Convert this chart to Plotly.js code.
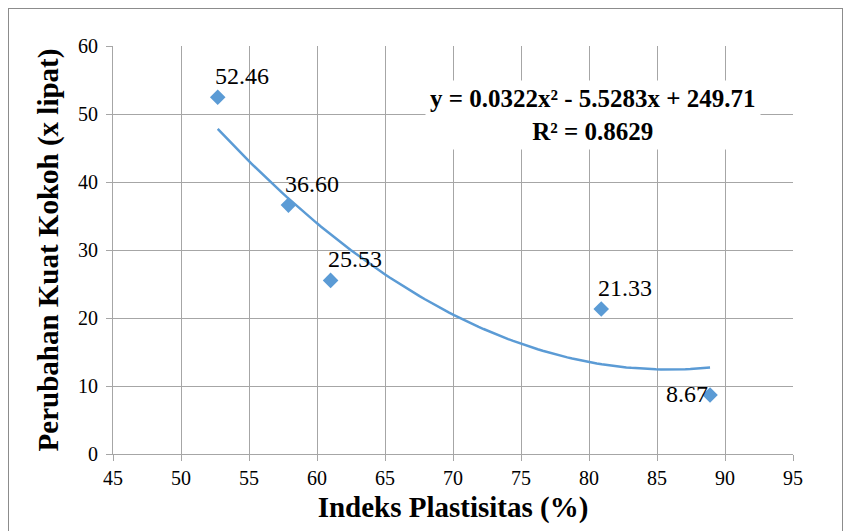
<!DOCTYPE html>
<html>
<head>
<meta charset="utf-8">
<script src="https://cdn.plot.ly/plotly-3.0.1.min.js"></script>
<style>
html,body{margin:0;padding:0;background:#fff;}
#wrap{position:relative;width:849px;height:531px;}
#chart{position:absolute;left:0;top:0;width:849px;height:531px;}
#frame{position:absolute;left:8px;top:8px;width:835px;height:530px;border:1px solid #8c8c8c;box-sizing:border-box;pointer-events:none;}
</style>
</head>
<body>
<div id="wrap"><div id="chart"></div><div id="frame"></div></div>
<script>
// Data
var plastisitas = [52.7, 57.9, 61.0, 80.9, 88.9];
var kuatKokoh = [52.46, 36.60, 25.53, 21.33, 8.67];
var labelText = ["52.46", "36.60", "25.53", "21.33", "8.67"];
// Trendline coefficients as printed on the chart (y = a x^2 + b x + c)
var trendA = 0.0322, trendB = -5.5283, trendC = 249.71;
var trendR2 = "0.8629";
var xTicks = [45, 50, 55, 60, 65, 70, 75, 80, 85, 90, 95];
var yTicks = [0, 10, 20, 30, 40, 50, 60];

var serif = "Liberation Serif";
var blue = "#5b9bd5";
var xmin = Math.min.apply(null, plastisitas), xmax = Math.max.apply(null, plastisitas);
var tx = [], ty = [];
for (var i = 0; i <= 100; i++) {
  var x = xmin + (xmax - xmin) * i / 100;
  tx.push(x);
  ty.push(trendA * x * x + trendB * x + trendC);
}

var traces = [
  {x: tx, y: ty, mode: "lines", line: {color: blue, width: 2.5}, hoverinfo: "skip", showlegend: false},
  {x: plastisitas, y: kuatKokoh, mode: "markers", marker: {symbol: "diamond", size: 12, color: blue}, showlegend: false}
];

var annotations = [];
for (var j = 0; j < plastisitas.length; j++) {
  var last = (j === plastisitas.length - 1);
  annotations.push({
    x: plastisitas[j], y: kuatKokoh[j], xref: "x", yref: "y",
    text: labelText[j], showarrow: false,
    xanchor: last ? "right" : "center", yanchor: "middle",
    xshift: last ? 0 : 24, yshift: last ? 1 : 21,
    font: {family: serif, size: 24, color: "#000"}
  });
}
annotations.push({
  x: 80.26, y: 49.8, xref: "x", yref: "y", showarrow: false,
  text: "<b>y = " + trendA + "x² - " + Math.abs(trendB) + "x + " + trendC + "<br>R² = " + trendR2 + "</b>",
  align: "center", bgcolor: "#ffffff", borderpad: 4,
  font: {family: serif, size: 25, color: "#000"}
});

var axisCommon = {
  showgrid: true, gridcolor: "#a6a6a6", gridwidth: 1,
  showline: true, linecolor: "#a6a6a6", linewidth: 1,
  ticks: "outside", ticklen: 6, tickcolor: "#a6a6a6",
  zeroline: false,
  tickfont: {family: serif, size: 20, color: "#000"}
};

var layout = {
  width: 849, height: 531,
  margin: {l: 113, r: 56, t: 46, b: 77},
  paper_bgcolor: "#fff", plot_bgcolor: "#fff",
  xaxis: Object.assign({}, axisCommon, {
    range: [45, 95], tickvals: xTicks, ticktext: xTicks.map(String),
    title: {text: "<b>Indeks Plastisitas (%)</b>", standoff: 8,
      font: {family: serif, size: 29, color: "#000"}}
  }),
  yaxis: Object.assign({}, axisCommon, {
    range: [0, 60], tickvals: yTicks, ticktext: yTicks.map(String),
    ticklabelstandoff: 4,
    title: {text: "<b>Perubahan Kuat Kokoh (x lipat)</b>", standoff: 10,
      font: {family: serif, size: 29, color: "#000"}}
  }),
  annotations: annotations
};

Plotly.newPlot("chart", traces, layout, {displayModeBar: false, staticPlot: true});
</script>
</body>
</html>
